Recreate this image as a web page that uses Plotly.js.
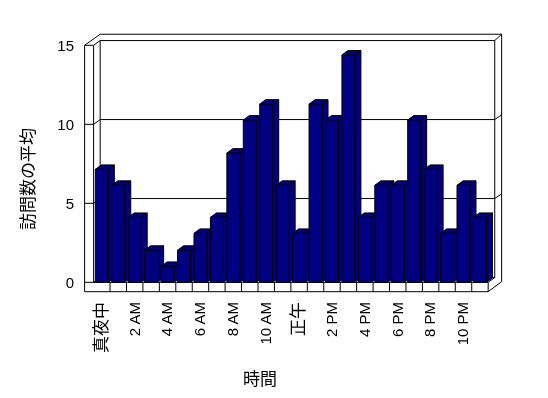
<!DOCTYPE html>
<html>
<head>
<meta charset="utf-8">
<script src="https://cdn.plot.ly/plotly-3.0.1.min.js"></script>
<style>
html,body{margin:0;padding:0;background:#fff;}
#chart{width:548px;height:398px;}
#chart text{filter:grayscale(1);}
</style>
</head>
<body>
<div id="chart"></div>
<script>
// ---- data ----
const hours = ['真夜中','1 AM','2 AM','3 AM','4 AM','5 AM','6 AM','7 AM','8 AM','9 AM','10 AM','11 AM',
               '正午','1 PM','2 PM','3 PM','4 PM','5 PM','6 PM','7 PM','8 PM','9 PM','10 PM','11 PM'];
const visits = [7.15, 6.14, 4.11, 2.03, 1.01, 2.03, 3.1, 4.11, 8.18, 10.27, 11.28, 6.14,
                3.1, 11.28, 10.27, 14.39, 4.11, 6.14, 6.14, 10.27, 7.15, 3.1, 6.14, 4.11];
const tickLabels = ['真夜中','2 AM','4 AM','6 AM','8 AM','10 AM','正午','2 PM','4 PM','6 PM','8 PM','10 PM'];
const yTicks = [0, 5, 10, 15];
const xTitle = '時間';
const yTitle = '訪問数の平均';

// ---- geometry / style ----
const n = hours.length;
const xs = hours.map((_, i) => i);
const tickPos = tickLabels.map(t => hours.indexOf(t));
const tickText = tickLabels.map(t => /[^\x00-\x7f]/.test(t)
  ? '<span style="font-size:17px">' + t + '</span>' : t);
const W = 0.79, BDX = 0.365, BDY = 0.28;   // bar width and pseudo-3D depth
const NAVY = '#000080';
const XR = [-1.3273, 24.5852], YR = [-0.8671, 15.9684];

const sx = [], sy = [], tx = [], ty = [];
visits.forEach((v, i) => {
  const a = i - W / 2, b = i + W / 2;
  sx.push(b, b + BDX, b + BDX, b, b, null);
  sy.push(0, BDY, v + BDY, v, 0, null);
  tx.push(a, a + BDX, b + BDX, b, a, null);
  ty.push(v, v + BDY, v + BDY, v, v, null);
});

const face = {type: 'scatter', mode: 'lines', fill: 'toself', fillcolor: NAVY,
  line: {color: '#000', width: 1}, hoverinfo: 'skip', showlegend: false};
const traces = [
  Object.assign({}, face, {x: sx, y: sy}),
  Object.assign({}, face, {x: tx, y: ty}),
  {type: 'bar', x: xs, y: visits, width: W, xaxis: 'x2', yaxis: 'y2',
   marker: {color: NAVY, line: {color: '#000', width: 1}}, hoverinfo: 'skip', showlegend: false}
];

// frame (walls + floor), in data units
const L = -0.5, R = n - 0.5, TOP = 15;
const DX = 0.40, DY = 0.30, TXW = 0.547, TYF = 0.595, OX = 0.42, OY = 0.40;
const shapes = [];
function seg(x0, y0, x1, y1) {
  shapes.push({type: 'line', xref: 'x', yref: 'y', x0, y0, x1, y1, layer: 'below',
               line: {color: '#000', width: 1}});
}
seg(L - TXW, -TYF, L - TXW, TOP);
seg(L, 0, L, TOP);
seg(L + DX, DY, L + DX, TOP + DY);
seg(L - TXW, TOP, L, TOP);
seg(L, TOP, L + DX, TOP + DY);
seg(L - TXW, TOP, L + DX, TOP + DY + OY);
seg(L + DX, TOP + DY + OY, R + DX + OX, TOP + DY + OY);
seg(L + DX, TOP + DY, R + DX, TOP + DY);
seg(R + DX, TOP + DY, R + DX + OX, TOP + DY + OY);
seg(R + DX, DY, R + DX, TOP + DY);
seg(R + DX + OX, 0.04, R + DX + OX, TOP + DY + OY);
seg(R + DX + OX, 0.04, R, -TYF);
seg(R + DX, DY, R, 0);
[0, 5, 10].forEach(v => {
  seg(L - TXW, v, v === 0 ? R : L, v);
  seg(L, v, L + DX, v + DY);
  seg(L + DX, v + DY, R + DX, v + DY);
  if (v > 0) seg(R + DX, v + DY, R + DX + OX, v + DY + OY * 0.75);
});
seg(L - TXW, -TYF, R, -TYF);
seg(R, 0, R, -TYF);
for (let k = 1; k < n; k++) seg(L + k, 0, L + k, -TYF);

const latin = 'Liberation Sans, Arial, Noto Sans CJK JP, sans-serif';
const cjk = 'Noto Sans CJK JP, sans-serif';

const layout = {
  width: 548, height: 398,
  margin: {l: 80, r: 42, t: 30, b: 102, pad: 0},
  paper_bgcolor: '#fff', plot_bgcolor: '#fff', showlegend: false,
  xaxis: {range: XR, fixedrange: true, showgrid: false, zeroline: false, showline: false, ticks: '',
          tickmode: 'array', tickvals: tickPos, ticktext: tickText, tickangle: -90,
          ticklabelstandoff: 2,
          tickfont: {family: latin, size: 15, color: '#000000'}},
  yaxis: {range: YR, fixedrange: true, showgrid: false, zeroline: false, showline: false, ticks: '',
          tickmode: 'array', tickvals: yTicks, ticklabelstandoff: 5,
          tickfont: {family: latin, size: 15, color: '#000000'}},
  xaxis2: {overlaying: 'x', anchor: 'y2', range: XR, visible: false, fixedrange: true},
  yaxis2: {overlaying: 'y', anchor: 'x2', range: YR, visible: false, fixedrange: true},
  shapes: shapes,
  annotations: [
    {text: xTitle, xref: 'paper', yref: 'paper', x: 0.4225, y: -0.308, showarrow: false,
     xanchor: 'center', yanchor: 'middle', font: {family: cjk, size: 17, color: '#000000'}},
    {text: yTitle, xref: 'paper', yref: 'paper', x: -0.1256, y: 0.4417, showarrow: false, textangle: -90,
     xanchor: 'center', yanchor: 'middle', font: {family: cjk, size: 17, color: '#000000'}}
  ]
};

Plotly.newPlot('chart', traces, layout, {staticPlot: true, displayModeBar: false});
</script>
</body>
</html>
